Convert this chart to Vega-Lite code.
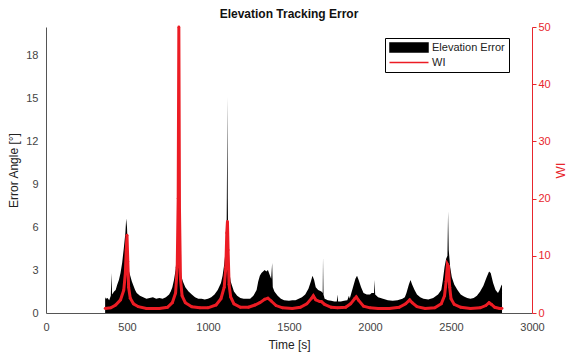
{
  "$schema": "https://vega.github.io/schema/vega-lite/v6.json",
  "autosize": {"type": "none"},
  "width": 486,
  "height": 286,
  "padding": {"left": 46, "top": 27, "right": 37, "bottom": 41},
  "background": "white",
  "title": {"text": "Elevation Tracking Error", "font": "Liberation Sans", "fontSize": 12, "fontWeight": "bold", "color": "#111", "offset": 0},
  "config": {
    "view": {"stroke": null},
    "font": "Liberation Sans",
    "axis": {"grid": false, "domainColor": "#555", "tickColor": "#555", "labelColor": "#444", "labelFontSize": 11, "labelFont": "Liberation Sans", "titleFont": "Liberation Sans", "titleFontSize": 12, "titleFontWeight": "normal", "titleColor": "#222", "tickSize": 4}
  },
  "datasets": {
    "err": [
      {"t": 365, "v": 1.1}, {"t": 370, "v": 1.0}, {"t": 380, "v": 1.05}, {"t": 390, "v": 0.9}, {"t": 400, "v": 1.2}, {"t": 404, "v": 2.8}, {"t": 408, "v": 1.3},
      {"t": 420, "v": 1.5}, {"t": 430, "v": 1.6}, {"t": 440, "v": 2.0}, {"t": 450, "v": 2.3}, {"t": 460, "v": 2.8}, {"t": 470, "v": 3.5}, {"t": 480, "v": 4.5},
      {"t": 490, "v": 5.6}, {"t": 495, "v": 6.6}, {"t": 500, "v": 6.0}, {"t": 505, "v": 4.5}, {"t": 510, "v": 3.0}, {"t": 520, "v": 2.6}, {"t": 530, "v": 2.2},
      {"t": 540, "v": 1.9}, {"t": 550, "v": 1.6}, {"t": 560, "v": 1.4}, {"t": 580, "v": 1.2}, {"t": 600, "v": 1.1}, {"t": 620, "v": 1.0}, {"t": 640, "v": 1.05},
      {"t": 660, "v": 1.1}, {"t": 680, "v": 1.0}, {"t": 700, "v": 1.05}, {"t": 720, "v": 1.0}, {"t": 740, "v": 1.1}, {"t": 760, "v": 1.3}, {"t": 770, "v": 1.5},
      {"t": 780, "v": 1.8}, {"t": 790, "v": 2.3}, {"t": 800, "v": 3.0}, {"t": 810, "v": 4.5}, {"t": 815, "v": 7}, {"t": 818, "v": 12}, {"t": 820, "v": 19.2},
      {"t": 822, "v": 12}, {"t": 825, "v": 6}, {"t": 830, "v": 3.5}, {"t": 835, "v": 2.6}, {"t": 845, "v": 2.2}, {"t": 860, "v": 1.8}, {"t": 880, "v": 1.5},
      {"t": 900, "v": 1.3}, {"t": 920, "v": 1.1}, {"t": 940, "v": 1.0}, {"t": 960, "v": 1.0}, {"t": 980, "v": 0.95}, {"t": 1000, "v": 1.0}, {"t": 1020, "v": 1.1},
      {"t": 1040, "v": 1.3}, {"t": 1060, "v": 1.6}, {"t": 1080, "v": 2.1}, {"t": 1090, "v": 2.6}, {"t": 1100, "v": 3.4}, {"t": 1110, "v": 4.5}, {"t": 1115, "v": 6},
      {"t": 1118, "v": 11}, {"t": 1120, "v": 15.1}, {"t": 1122, "v": 8}, {"t": 1125, "v": 4.5}, {"t": 1130, "v": 3.0}, {"t": 1140, "v": 2.2}, {"t": 1160, "v": 1.5},
      {"t": 1180, "v": 1.2}, {"t": 1200, "v": 1.05}, {"t": 1220, "v": 1.0}, {"t": 1240, "v": 1.0}, {"t": 1260, "v": 1.0}, {"t": 1280, "v": 1.2}, {"t": 1300, "v": 1.6},
      {"t": 1310, "v": 2.2}, {"t": 1320, "v": 2.6}, {"t": 1330, "v": 2.8}, {"t": 1340, "v": 2.9}, {"t": 1350, "v": 3.0}, {"t": 1360, "v": 2.9}, {"t": 1370, "v": 3.0},
      {"t": 1380, "v": 2.7}, {"t": 1390, "v": 2.4}, {"t": 1396, "v": 3.5}, {"t": 1400, "v": 1.8}, {"t": 1410, "v": 1.5}, {"t": 1430, "v": 1.2}, {"t": 1450, "v": 1.0},
      {"t": 1470, "v": 0.9}, {"t": 1500, "v": 0.85}, {"t": 1520, "v": 0.9}, {"t": 1540, "v": 0.9}, {"t": 1560, "v": 1.0}, {"t": 1580, "v": 1.1}, {"t": 1600, "v": 1.3},
      {"t": 1620, "v": 1.7}, {"t": 1635, "v": 2.2}, {"t": 1645, "v": 2.6}, {"t": 1655, "v": 2.3}, {"t": 1665, "v": 1.8}, {"t": 1680, "v": 1.6}, {"t": 1700, "v": 1.5},
      {"t": 1708, "v": 1.4}, {"t": 1710, "v": 3.9}, {"t": 1713, "v": 1.3}, {"t": 1720, "v": 1.0}, {"t": 1740, "v": 0.9}, {"t": 1760, "v": 0.85}, {"t": 1780, "v": 0.8},
      {"t": 1795, "v": 0.8}, {"t": 1800, "v": 1.3}, {"t": 1803, "v": 0.8}, {"t": 1820, "v": 0.8}, {"t": 1840, "v": 0.85}, {"t": 1860, "v": 0.9}, {"t": 1870, "v": 1.2},
      {"t": 1875, "v": 1.0}, {"t": 1880, "v": 1.2}, {"t": 1895, "v": 1.8}, {"t": 1910, "v": 2.4}, {"t": 1920, "v": 2.6}, {"t": 1930, "v": 2.3}, {"t": 1945, "v": 1.8},
      {"t": 1960, "v": 1.4}, {"t": 1980, "v": 1.3}, {"t": 2000, "v": 1.3}, {"t": 2010, "v": 1.4}, {"t": 2025, "v": 1.4}, {"t": 2028, "v": 2.3}, {"t": 2032, "v": 1.3},
      {"t": 2050, "v": 1.1}, {"t": 2080, "v": 1.0}, {"t": 2110, "v": 0.9}, {"t": 2140, "v": 0.85}, {"t": 2170, "v": 0.9}, {"t": 2200, "v": 1.0}, {"t": 2215, "v": 1.1},
      {"t": 2225, "v": 1.4}, {"t": 2240, "v": 2.0}, {"t": 2250, "v": 2.3}, {"t": 2260, "v": 2.0}, {"t": 2275, "v": 1.6}, {"t": 2290, "v": 1.3}, {"t": 2310, "v": 1.1},
      {"t": 2330, "v": 1.0}, {"t": 2360, "v": 0.95}, {"t": 2390, "v": 1.05}, {"t": 2420, "v": 1.3}, {"t": 2440, "v": 1.6}, {"t": 2450, "v": 2.3}, {"t": 2460, "v": 3.2},
      {"t": 2470, "v": 3.8}, {"t": 2478, "v": 4.0}, {"t": 2482, "v": 7.1}, {"t": 2486, "v": 4.4}, {"t": 2495, "v": 3.2}, {"t": 2505, "v": 2.5}, {"t": 2520, "v": 2.0},
      {"t": 2540, "v": 1.6}, {"t": 2560, "v": 1.3}, {"t": 2580, "v": 1.15}, {"t": 2600, "v": 1.05}, {"t": 2620, "v": 1.0}, {"t": 2640, "v": 1.05}, {"t": 2660, "v": 1.2},
      {"t": 2680, "v": 1.5}, {"t": 2700, "v": 1.9}, {"t": 2720, "v": 2.5}, {"t": 2735, "v": 2.9}, {"t": 2745, "v": 2.8}, {"t": 2760, "v": 2.1}, {"t": 2775, "v": 1.6},
      {"t": 2790, "v": 1.4}, {"t": 2800, "v": 1.6}, {"t": 2810, "v": 1.9}, {"t": 2815, "v": 2.0}
    ],
    "wi": [
      {"t": 365, "w": 0.8}, {"t": 400, "w": 0.9}, {"t": 430, "w": 1.4}, {"t": 460, "w": 2.3}, {"t": 480, "w": 4.0}, {"t": 490, "w": 7}, {"t": 495, "w": 11},
      {"t": 500, "w": 13.6}, {"t": 505, "w": 9}, {"t": 510, "w": 4.5}, {"t": 520, "w": 2.6}, {"t": 540, "w": 1.6}, {"t": 570, "w": 1.1}, {"t": 620, "w": 0.8},
      {"t": 700, "w": 0.8}, {"t": 750, "w": 1.0}, {"t": 780, "w": 1.8}, {"t": 800, "w": 3.5}, {"t": 810, "w": 8}, {"t": 816, "w": 20}, {"t": 820, "w": 50},
      {"t": 824, "w": 18}, {"t": 830, "w": 6}, {"t": 840, "w": 3}, {"t": 860, "w": 1.8}, {"t": 900, "w": 1.1}, {"t": 950, "w": 0.9}, {"t": 1000, "w": 0.9},
      {"t": 1050, "w": 1.4}, {"t": 1080, "w": 2.5}, {"t": 1100, "w": 4.5}, {"t": 1110, "w": 8}, {"t": 1116, "w": 14}, {"t": 1120, "w": 16}, {"t": 1124, "w": 11},
      {"t": 1130, "w": 5}, {"t": 1140, "w": 2.8}, {"t": 1160, "w": 1.6}, {"t": 1200, "w": 1.0}, {"t": 1250, "w": 1.0}, {"t": 1290, "w": 1.4}, {"t": 1320, "w": 1.8},
      {"t": 1350, "w": 2.4}, {"t": 1370, "w": 2.6}, {"t": 1390, "w": 2.1}, {"t": 1420, "w": 1.3}, {"t": 1460, "w": 0.9}, {"t": 1520, "w": 0.8}, {"t": 1570, "w": 1.0},
      {"t": 1610, "w": 1.6}, {"t": 1640, "w": 2.6}, {"t": 1650, "w": 3.0}, {"t": 1665, "w": 2.3}, {"t": 1690, "w": 2.0}, {"t": 1700, "w": 2.0}, {"t": 1720, "w": 1.5},
      {"t": 1760, "w": 1.0}, {"t": 1800, "w": 0.9}, {"t": 1850, "w": 1.0}, {"t": 1880, "w": 1.6}, {"t": 1905, "w": 2.5}, {"t": 1915, "w": 2.8}, {"t": 1930, "w": 2.2},
      {"t": 1960, "w": 1.2}, {"t": 2000, "w": 0.9}, {"t": 2050, "w": 0.8}, {"t": 2120, "w": 0.8}, {"t": 2180, "w": 1.0}, {"t": 2220, "w": 1.6}, {"t": 2245, "w": 2.3},
      {"t": 2260, "w": 1.8}, {"t": 2290, "w": 1.1}, {"t": 2340, "w": 0.8}, {"t": 2400, "w": 0.9}, {"t": 2440, "w": 1.6}, {"t": 2460, "w": 3.0}, {"t": 2470, "w": 5.5},
      {"t": 2478, "w": 8.5}, {"t": 2484, "w": 8.2}, {"t": 2492, "w": 4.5}, {"t": 2500, "w": 2.5}, {"t": 2520, "w": 1.5}, {"t": 2560, "w": 1.0}, {"t": 2620, "w": 0.8},
      {"t": 2680, "w": 0.9}, {"t": 2715, "w": 1.3}, {"t": 2735, "w": 1.8}, {"t": 2750, "w": 1.5}, {"t": 2770, "w": 1.0}, {"t": 2800, "w": 0.8}, {"t": 2815, "w": 0.8}
    ]
  },
  "layer": [
    {
      "data": {"name": "err"},
      "mark": {"type": "area", "interpolate": "linear", "opacity": 1},
      "encoding": {
        "x": {"field": "t", "type": "quantitative", "scale": {"domain": [0, 3000], "nice": false},
          "axis": {"title": "Time [s]", "values": [0, 500, 1000, 1500, 2000, 2500, 3000], "format": "d", "labelFlush": false, "tickSize": 0, "labelPadding": 8, "titlePadding": 7}},
        "y": {"field": "v", "type": "quantitative", "scale": {"domain": [0, 20], "nice": false},
          "axis": {"title": "Error Angle [°]", "values": [0, 3, 6, 9, 12, 15, 18], "tickSize": 0, "labelPadding": 8, "titlePadding": 5}},
        "color": {"datum": "Elevation Error", "type": "nominal",
          "scale": {"domain": ["Elevation Error", "WI"], "range": ["#000000", "#ec1c24"]},
          "legend": {"title": null, "orient": "none", "legendX": 339, "legendY": 11, "direction": "vertical",
            "strokeColor": "#000", "fillColor": "#fff", "padding": 4, "symbolSize": 100, "symbolOffset": 14.5,
            "labelFont": "Liberation Sans", "labelFontSize": 11, "labelColor": "#222", "rowPadding": 2, "labelOffset": 17.5,
            "encode": {"symbols": {"update": {
              "shape": {"signal": "datum.value === 'WI' ? 'M-3.9,0H3.9' : 'M-3.9,-1H3.9V1H-3.9Z'"},
              "strokeWidth": {"signal": "datum.value === 'WI' ? 1.5 : 0.5"},
              "stroke": {"signal": "datum.value === 'WI' ? '#ec1c24' : '#000000'"},
              "fill": {"signal": "datum.value === 'WI' ? 'transparent' : '#000000'"},
              "opacity": {"value": 1}
            }}}}}
      }
    },
    {
      "data": {"name": "wi"},
      "mark": {"type": "line", "interpolate": "linear", "strokeWidth": 3, "point": {"filled": true, "size": 8, "color": "#ec1c24"}},
      "encoding": {
        "x": {"field": "t", "type": "quantitative"},
        "y": {"field": "w", "type": "quantitative", "scale": {"domain": [0, 50], "nice": false},
          "axis": {"title": "WI", "orient": "right", "values": [0, 10, 20, 30, 40, 50], "tickSize": 4, "labelPadding": 2,
            "domainColor": "#e8262d", "tickColor": "#e8262d", "labelColor": "#e8262d", "titleColor": "#e8262d", "titleAngle": -90, "titlePadding": 17, "titleFontSize": 13}},
        "color": {"datum": "WI", "type": "nominal",
          "legend": {"title": null, "orient": "none", "legendX": 339, "legendY": 11, "direction": "vertical",
            "strokeColor": "#000", "fillColor": "#fff", "padding": 4, "symbolSize": 100, "symbolOffset": 14.5,
            "labelFont": "Liberation Sans", "labelFontSize": 11, "labelColor": "#222", "rowPadding": 2, "labelOffset": 17.5,
            "encode": {"symbols": {"update": {
              "shape": {"signal": "datum.value === 'WI' ? 'M-3.9,0H3.9' : 'M-3.9,-1H3.9V1H-3.9Z'"},
              "strokeWidth": {"signal": "datum.value === 'WI' ? 1.5 : 0.5"},
              "stroke": {"signal": "datum.value === 'WI' ? '#ec1c24' : '#000000'"},
              "fill": {"signal": "datum.value === 'WI' ? 'transparent' : '#000000'"},
              "opacity": {"value": 1}
            }}}}}
      }
    }
  ],
  "resolve": {"scale": {"y": "independent"}}
}
